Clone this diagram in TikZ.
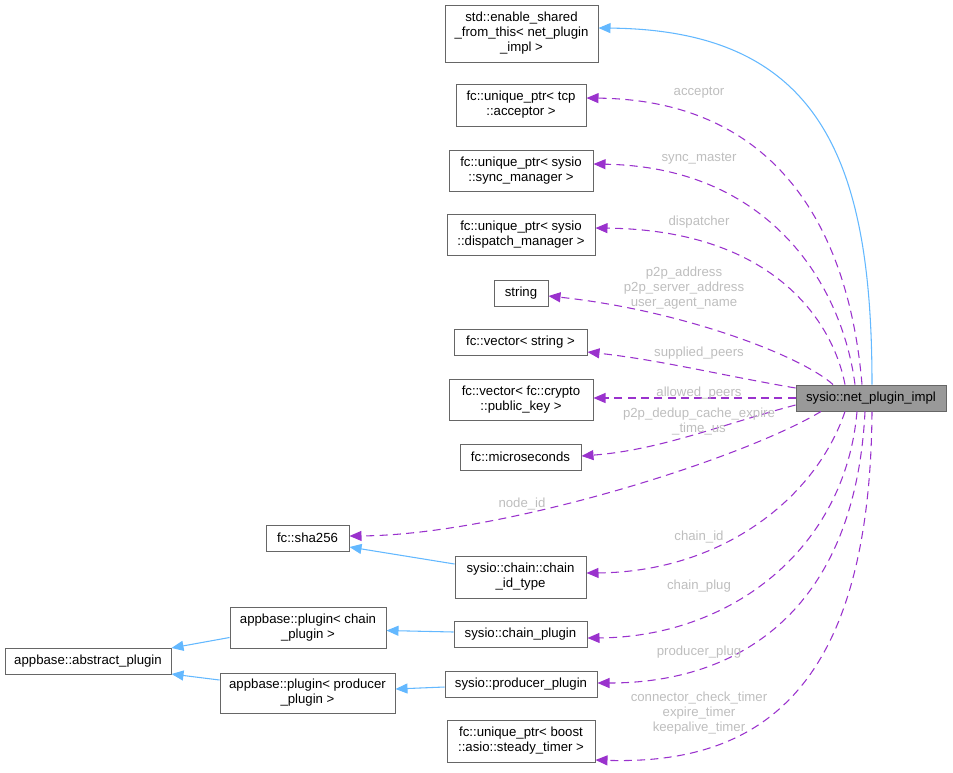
\documentclass[tikz,border=0pt]{standalone}
\usepackage{fontspec}
\setmainfont{Liberation Sans}
\usetikzlibrary{arrows.meta,calc}
\definecolor{edgeblue}{HTML}{63B8FF}
\definecolor{edgepurple}{HTML}{9A32CD}
\definecolor{lblgray}{HTML}{BEBEBE}
\definecolor{boxline}{HTML}{666666}
\definecolor{mainfill}{HTML}{999999}
\begin{document}
\begin{tikzpicture}[x=0.75pt,y=-0.75pt,
  font=\fontsize{9.9}{11.25}\selectfont,
  box/.style={draw=boxline, fill=white, align=center, inner sep=0pt, line width=0.75pt},
  sz/.style 2 args={minimum width=#1*0.75pt, minimum height=#2*0.75pt},
  inh/.style={draw=edgeblue, line width=0.8pt, -{Triangle[length=9pt,width=7.5pt]}},
  mem/.style={draw=edgepurple, line width=0.8pt, dash pattern=on 6pt off 4pt, -{Triangle[length=9pt,width=7.5pt]}},
  lbl/.style={text=lblgray, align=center, inner sep=0pt}]
\useasboundingbox (0,0) rectangle (953,772);

% nodes
\node[box,sz={153}{57}] (esft) at (521.5,33.5) {std::enable\_shared\\\_from\_this< net\_plugin\\\_impl >};
\node[box,sz={130}{42}] (acc) at (521,105) {fc::unique\_ptr< tcp\\::acceptor >};
\node[box,sz={144}{41}] (sync) at (521,170.5) {fc::unique\_ptr< sysio\\::sync\_manager >};
\node[box,sz={148}{41}] (disp) at (521,234.5) {fc::unique\_ptr< sysio\\::dispatch\_manager >};
\node[box,sz={54}{26}] (str) at (521,293) {string};
\node[box,sz={133}{26}] (vstr) at (520.5,342) {fc::vector< string >};
\node[box,sz={144}{41}] (vkey) at (521,399.5) {fc::vector< fc::crypto\\::public\_key >};
\node[box,sz={121}{26}] (usec) at (520.5,457) {fc::microseconds};
\node[box,sz={83}{26}] (sha) at (307.5,538) {fc::sha256};
\node[box,sz={131}{42}] (cid) at (520.5,577) {sysio::chain::chain\\\_id\_type};
\node[box,sz={133}{26}] (cplug) at (520.5,634) {sysio::chain\_plugin};
\node[box,sz={152}{26}] (pplug) at (521,684) {sysio::producer\_plugin};
\node[box,sz={148}{42}] (timer) at (521,741) {fc::unique\_ptr< boost\\::asio::steady\_timer >};
\node[box,sz={166}{26}] (abs) at (88,661) {appbase::abstract\_plugin};
\node[box,sz={156}{41}] (pchain) at (308,627.5) {appbase::plugin< chain\\\_plugin >};
\node[box,sz={175}{40}] (pprod) at (307.5,693) {appbase::plugin< producer\\\_plugin >};
\node[box,fill=mainfill,sz={150}{26}] (np) at (871,398) {sysio::net\_plugin\_impl};

% inheritance edges
\draw[inh] ($(np.north)+(1,0)$) .. controls (872,160) and (820,30) .. ($(esft.east)+(0,-5.5)$);
\draw[inh] ($(cid.west)+(0,-13)$) -- ($(sha.east)+(0,9)$);
\draw[inh] ($(cplug.west)+(0,-2)$) -- ($(pchain.east)+(0,3)$);
\draw[inh] ($(pplug.west)+(0,3)$) -- ($(pprod.east)+(0,-4)$);
\draw[inh] ($(pchain.west)+(0,10)$) -- ($(abs.east)+(0,-13)$);
\draw[inh] ($(pprod.west)+(0,-13)$) -- ($(abs.east)+(0,13)$);

% member edges
\draw[mem] ($(np.north)+(-9,0)$) .. controls (848,220) and (770,100) .. ($(acc.east)+(0,-7)$);
\draw[mem] ($(np.north)+(-16,0)$) .. controls (842,285) and (770,167) .. ($(sync.east)+(0,-6.5)$);
\draw[mem] ($(np.north)+(-26,0)$) .. controls (832,318) and (770,230) .. ($(disp.east)+(0,-6.5)$);
\draw[mem] ($(np.north)+(-38,0)$) .. controls (800,355) and (680,310) .. ($(str.east)+(0,3)$);
\draw[mem] ($(np.west)+(0,-10)$) .. controls (720,375) and (660,360) .. ($(vstr.east)+(0,10)$);
\draw[mem] (np.west) -- ($(vkey.east)+(0,-1.5)$);
\draw[mem] ($(np.west)+(0,7)$) .. controls (720,425) and (660,450) .. ($(usec.east)+(0,-1)$);
\draw[mem] ($(np.south)+(-50,0)$) .. controls (740,460) and (500,535) .. ($(sha.east)+(0,-2)$);
\draw[mem] ($(np.south)+(-26,0)$) .. controls (815,500) and (720,572) .. ($(cid.east)+(0,-4)$);
\draw[mem] ($(np.south)+(-14,0)$) .. controls (845,550) and (730,637) .. ($(cplug.east)+(0,4)$);
\draw[mem] ($(np.south)+(-6,0)$) .. controls (855,610) and (740,683) .. ($(pplug.east)+(0,-1)$);
\draw[mem] ($(np.south)+(1,0)$) .. controls (870,690) and (760,765) .. ($(timer.east)+(0,19)$);

% labels
\node[lbl] (l1) at (699,93) {acceptor};
\node[lbl] (l2) at (699,159) {sync\_master};
\node[lbl] (l3) at (699,222) {dispatcher};
\node[lbl] (l4) at (684,288) {p2p\_address\\p2p\_server\_address\\user\_agent\_name};
\node[lbl] (l5) at (699,353) {supplied\_peers};
\node[lbl] (l6) at (699,393) {allowed\_peers};
\node[lbl] (l7) at (699,421.5) {p2p\_dedup\_cache\_expire\\\_time\_us};
\node[lbl] (l8) at (522,504) {node\_id};
\node[lbl] (l9) at (699,537) {chain\_id};
\node[lbl] (l10) at (699,586) {chain\_plug};
\node[lbl] (l11) at (699,652) {producer\_plug};
\node[lbl] (l12) at (699,713) {connector\_check\_timer\\expire\_timer\\keepalive\_timer};
\end{tikzpicture}
\end{document}
